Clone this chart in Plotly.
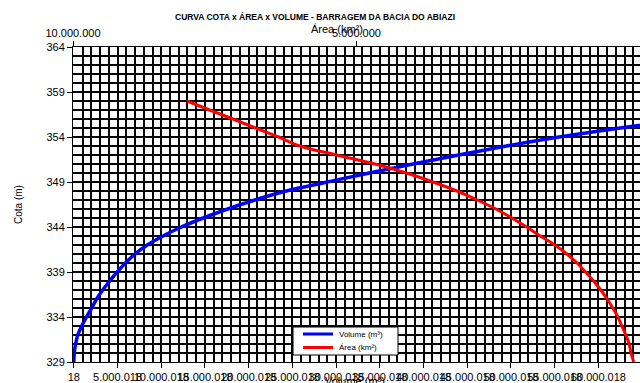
import plotly.graph_objects as go

# --- data ---
cota_vol = list(range(329, 357))
volume_m3 = [18, 50_000, 200_000, 450_000, 900_000, 1_450_000, 2_050_000, 2_600_000,
             3_300_000, 4_100_000, 4_950_000, 5_900_000, 7_000_000, 8_400_000, 10_200_000,
             12_300_000, 14_800_000, 17_600_000, 20_700_000, 24_300_000, 29_000_000,
             33_800_000, 38_800_000, 44_000_000, 49_500_000, 55_500_000, 62_500_000, 70_000_000]

cota_area = list(range(329, 359))
area = [110_000, 160_000, 190_000, 250_000, 320_000, 390_000, 480_000, 580_000, 690_000,
        820_000, 960_000, 1_110_000, 1_290_000, 1_500_000, 1_760_000, 2_000_000, 2_260_000,
        2_540_000, 2_870_000, 3_230_000, 3_650_000, 4_120_000, 4_670_000, 5_350_000,
        6_000_000, 6_370_000, 6_780_000, 7_180_000, 7_590_000, 7_990_000]

series_names = ["Volume (m³)", "Área (km²)"]
series_colors = ["#0000FF", "#FF0000"]

title_text = "CURVA COTA x ÁREA x VOLUME - BARRAGEM DA BACIA DO ABIAZI"
FONT = "Liberation Sans, Arial, sans-serif"

# plot area in pixels
L, R, T, B = 73, 0, 47, 21
W, H = 640, 383
pw, ph = W - L - R, H - T - B


def px(x):
    return (x - L) / pw


def py(y):
    return (H - B - y) / ph


fig = go.Figure()
fig.add_trace(go.Scatter(x=volume_m3, y=cota_vol, mode="lines", name=series_names[0],
                         line=dict(color=series_colors[0], width=3.5, shape="spline")))
fig.add_trace(go.Scatter(x=area, y=cota_area, mode="lines", name=series_names[1],
                         xaxis="x2", yaxis="y",
                         line=dict(color=series_colors[1], width=3, shape="spline")))

grid = dict(showgrid=True, gridcolor="black", gridwidth=2)

annotations = [
    dict(text=title_text, x=px(315), y=py(17),
         font=dict(size=8.5, family=FONT, color="black", weight="bold")),
    dict(text="Área (km²)", x=px(337), y=py(29), font=dict(size=11, family=FONT)),
    dict(text="Volume (m³)", x=px(355), y=py(381), font=dict(size=11, family=FONT)),
    dict(text="Cota (m)", x=px(18), y=py(205), textangle=-90,
         font=dict(size=10, family=FONT)),
]
for a in annotations:
    a.update(xref="paper", yref="paper", showarrow=False, xanchor="center", yanchor="middle")

# legend box (drawn like the reference's small legend)
shapes = [dict(type="rect", xref="paper", yref="paper", x0=px(293), x1=px(398),
               y0=py(355), y1=py(327), fillcolor="white",
               line=dict(color="black", width=1), layer="above")]
for i, (nm, col) in enumerate(zip(series_names, series_colors)):
    yy = 334 + 13.5 * i
    shapes.append(dict(type="line", xref="paper", yref="paper", x0=px(303), x1=px(333),
                       y0=py(yy), y1=py(yy), line=dict(color=col, width=3), layer="above"))
    annotations.append(dict(text=nm, x=px(337), y=py(yy), xref="paper", yref="paper",
                            showarrow=False, xanchor="left", yanchor="middle",
                            font=dict(size=8, family=FONT, color="black")))

fig.update_layout(
    width=W, height=H,
    margin=dict(l=L, r=R, t=T, b=B),
    paper_bgcolor="white", plot_bgcolor="white",
    separators=",.",
    font=dict(family=FONT, size=11, color="black"),
    showlegend=False,
    xaxis=dict(range=[-96_000, 64_760_000], tick0=18, dtick=5_000_000, tickformat=",d",
               ticks="outside", ticklen=5, tickcolor="black", tickangle=0,
               showline=True, linecolor="black", linewidth=1, zeroline=False,
               minor=dict(dtick=1_000_000, tick0=18, **grid), automargin=False,
               **grid),
    xaxis2=dict(range=[10_000_000, 0], overlaying="x", side="top", anchor="y",
                tick0=0, dtick=5_000_000, tickformat=",d", ticks="outside", ticklen=5,
                tickcolor="black", showgrid=False, zeroline=False, showline=True,
                linecolor="black", automargin=False, tickangle=0),
    yaxis=dict(range=[329, 364], tick0=329, dtick=5, ticks="outside", ticklen=5,
               tickcolor="black", showline=True, linecolor="black", zeroline=False,
               minor=dict(dtick=1, tick0=329, **grid), automargin=False, **grid),
    annotations=annotations,
    shapes=shapes,
)

fig.write_html("out.html", config={"displayModeBar": False},
               post_script="document.body.style.margin='0';document.body.style.padding='0';")
